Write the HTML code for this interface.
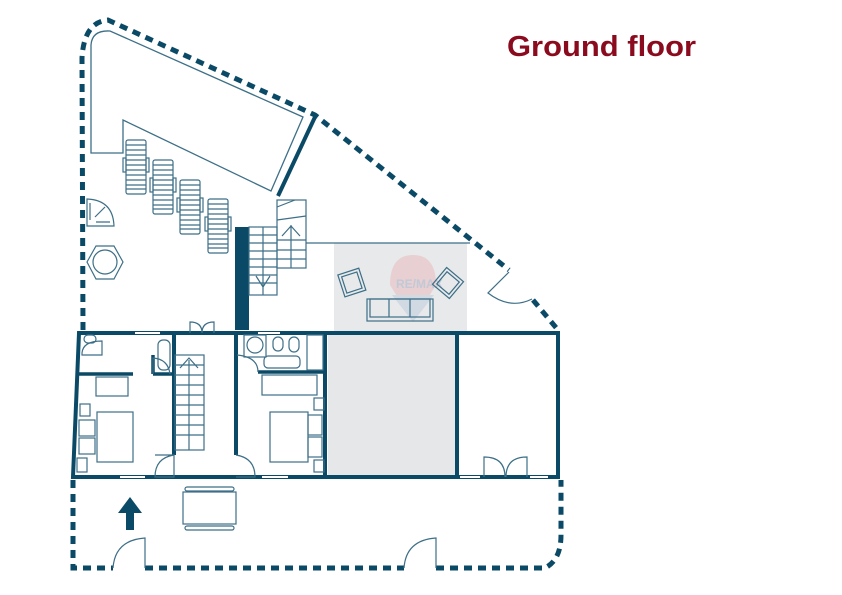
<!DOCTYPE html>
<html><head><meta charset="utf-8"><style>
html,body{margin:0;padding:0;background:#fff;}
svg{display:block;}
</style></head><body>
<svg width="842" height="595" viewBox="0 0 842 595" xmlns="http://www.w3.org/2000/svg">
<text x="507" y="56" font-family="Liberation Sans, sans-serif" font-weight="bold" font-size="29" fill="#8a0a1e" textLength="189" lengthAdjust="spacingAndGlyphs">Ground floor</text>

<rect x="334" y="243" width="133" height="90" fill="#e8e9eb"/>
<rect x="328" y="333" width="129" height="144" fill="#e6e7e8"/>
<g opacity="0.35">
<path d="M390,285 Q390,255 413,255 Q436,255 436,285 L413,322 Z" fill="#e9a0a6"/>
<path d="M392,295 L434,295 L413,322 Z" fill="#a9bcd6"/>
<text x="396" y="288" font-family="Liberation Sans, sans-serif" font-weight="bold" font-size="12" fill="#7a8fb0">RE/MAX</text>
</g>

<g fill="none" stroke="#0b4a66">
<path d="M83,330 L82,58 Q84,22 108,20 L315,115 L509,270" stroke-width="5" stroke-dasharray="8,6"/>
<path d="M533,300 L558,330" stroke-width="5" stroke-dasharray="8,6"/>
<path d="M73,480 L73,568 L113,568 M145,568 L404,568 M436,568 L545,568 Q561,560 561,535 L561,480" stroke-width="5" stroke-dasharray="8,6"/>
<path d="M315,117 L278,196" stroke-width="4"/>

<path d="M91,153 L91,45 Q92,30 110,31 L303,117 L271,191 L123,120 L123,153 Z" stroke-width="1.3" stroke="#3d6f87"/>

<path d="M79,333 L558,333 L558,477 L73,477 Z" stroke-width="4"/>
<path d="M174,333 L174,455 M236,333 L236,455 M325,333 L325,477 M457,333 L457,477" stroke-width="4"/>
<path d="M79,374 L133,374 M153,374 L174,374 M153,355 L153,374" stroke-width="3.5"/>
<path d="M258,372 L325,372" stroke-width="3.5"/>
<path d="M135,333 L160,333 M258,333 L280,333 M120,477 L145,477 M262,477 L288,477 M460,477 L480,477 M530,477 L548,477" stroke="#fff" stroke-width="2"/>
</g>

<rect x="235" y="227" width="14" height="103" fill="#0b4a66"/>

<g fill="none" stroke="#3d6f87" stroke-width="1.2">
<rect x="249" y="227" width="28" height="68"/>
<path d="M263,227 L263,295 M249,235 L277,235 M249,243 L277,243 M249,251 L277,251 M249,259 L277,259 M249,267 L277,267 M249,275 L277,275 M249,283 L277,283 M256,276 L263,287 L270,276"/>
<rect x="277" y="200" width="29" height="68"/>
<path d="M277,220 L306,216 M277,207 L295,200 M291,225 L291,268 M277,240 L306,240 M277,250 L306,250 M277,259 L306,259 M282,236 L291,226 L300,236 M306,243 L470,243"/>
<rect x="175" y="355" width="29" height="95"/>
<path d="M189,360 L189,450 M175,365 L204,365 M175,375 L204,375 M175,385 L204,385 M175,395 L204,395 M175,405 L204,405 M175,415 L204,415 M175,425 L204,425 M175,435 L204,435 M180,368 L189,358 L198,368"/>
<g>
<rect x="126" y="140" width="20" height="54" rx="2"/><path d="M126,145h20M126,150h20M126,155h20M126,160h20M126,165h20M126,170h20M126,175h20M126,180h20M126,185h20M126,189h20"/><rect x="123" y="158" width="3" height="14"/><rect x="146" y="158" width="3" height="14"/>
<rect x="153" y="160" width="20" height="54" rx="2"/><path d="M153,165h20M153,170h20M153,175h20M153,180h20M153,185h20M153,190h20M153,195h20M153,200h20M153,205h20M153,209h20"/><rect x="150" y="178" width="3" height="14"/><rect x="173" y="178" width="3" height="14"/>
<rect x="180" y="180" width="20" height="54" rx="2"/><path d="M180,185h20M180,190h20M180,195h20M180,200h20M180,205h20M180,210h20M180,215h20M180,220h20M180,225h20M180,229h20"/><rect x="177" y="198" width="3" height="14"/><rect x="200" y="198" width="3" height="14"/>
<rect x="208" y="199" width="20" height="54" rx="2"/><path d="M208,204h20M208,209h20M208,214h20M208,219h20M208,224h20M208,229h20M208,234h20M208,239h20M208,244h20M208,248h20"/><rect x="205" y="217" width="3" height="14"/><rect x="228" y="217" width="3" height="14"/>
</g>
<!-- shower corner -->
<path d="M87,226 L87,199 Q113,200 114,226 Z"/>
<path d="M90,203 L90,220 M96,222 L110,222 M95,217 L105,207"/>
<!-- hexagon table -->
<path d="M87,262 L96,246 L114,246 L123,262 L114,279 L96,279 Z"/>
<circle cx="105" cy="262" r="12"/>
<g transform="rotate(-18 352 283)"><rect x="341" y="271" width="22" height="23"/><rect x="344" y="274" width="16" height="17"/></g>
<g transform="rotate(40 448 283)"><rect x="437" y="272" width="22" height="22"/><rect x="440" y="275" width="16" height="16"/></g>
<rect x="367" y="299" width="66" height="22"/><rect x="370" y="299" width="60" height="18"/><path d="M389,299v18M410,299v18"/>
<path d="M509,272 L488,293 Q510,310 532,299"/>
<path d="M190,333 L190,322 Q202,322 202,333 M214,333 L214,322 Q202,322 202,333"/>
<path d="M484,477 L484,457 Q505,457 505,477 M527,477 L527,457 Q506,457 506,477"/>
<path d="M113,568 Q115,540 145,538 L145,568 M404,568 Q406,540 436,538 L436,568"/>
<path d="M155,455 L174,455 L174,477 L155,477 Q155,458 174,455"/>
<path d="M236,455 Q255,458 255,477 L236,477"/>
<path d="M153,374 L153,358 Q168,359 170,374"/>
<path d="M237,355 Q258,357 258,372"/>
<path d="M82,353 Q83,341 102,341 L102,355 L82,355 Z"/>
<rect x="84" y="335" width="12" height="8" rx="4"/>
<rect x="158" y="340" width="12" height="30" rx="5"/>
<rect x="96" y="377" width="32" height="19"/>
<rect x="97" y="412" width="36" height="50"/>
<rect x="79" y="420" width="16" height="16"/><rect x="79" y="438" width="16" height="16"/>
<rect x="80" y="404" width="10" height="12"/><rect x="77" y="458" width="10" height="14"/>
<circle cx="255" cy="345" r="8"/>
<rect x="244" y="335" width="22" height="22"/>
<rect x="273" y="337" width="10" height="14" rx="5"/>
<rect x="289" y="337" width="10" height="15" rx="5"/>
<rect x="307" y="335" width="16" height="35"/>
<rect x="264" y="356" width="36" height="12" rx="4"/>
<rect x="262" y="375" width="55" height="20"/>
<rect x="270" y="412" width="38" height="50"/>
<rect x="308" y="415" width="14" height="20"/><rect x="308" y="437" width="14" height="20"/>
<rect x="314" y="398" width="10" height="12"/><rect x="314" y="460" width="10" height="12"/>
<rect x="183" y="492" width="53" height="32"/>
<rect x="185" y="487" width="49" height="4" rx="2"/><rect x="185" y="526" width="49" height="4" rx="2"/>
</g>
<path d="M130,497 L142,513 L134,513 L134,530 L126,530 L126,513 L118,513 Z" fill="#0b4a66"/>
</svg>
</body></html>
